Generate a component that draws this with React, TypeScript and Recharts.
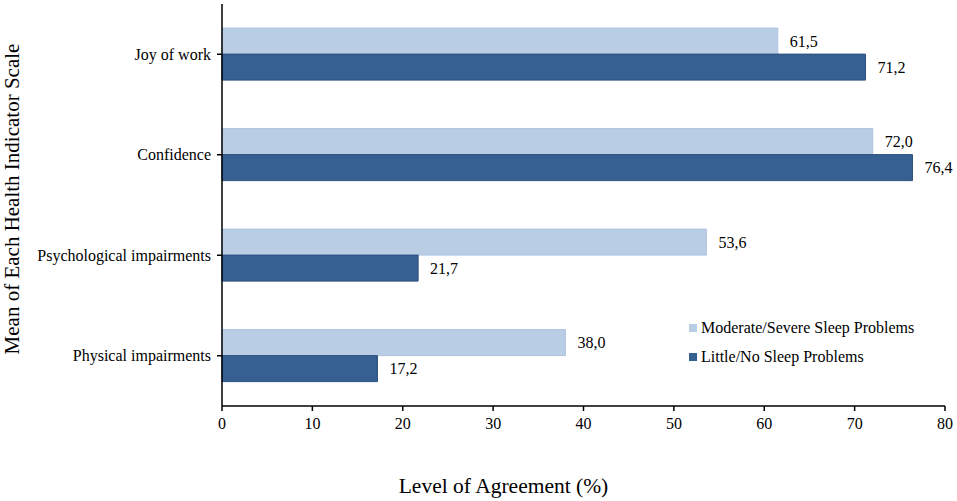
import React from 'react';
import { BarChart, Bar, XAxis, YAxis, LabelList, Legend, Label } from 'recharts';

const categories = ['Joy of work', 'Confidence', 'Psychological impairments', 'Physical impairments'];
const moderateSevere = [61.5, 72.0, 53.6, 38.0];
const littleNo = [71.2, 76.4, 21.7, 17.2];
const xTicks = [0, 10, 20, 30, 40, 50, 60, 70, 80];

const data = categories.map((name, i) => ({ name, moderate: moderateSevere[i], little: littleNo[i] }));

const LIGHT = '#b9cde5';
const DARK = '#376092';
const FONT = '"Liberation Serif", "Times New Roman", serif';

const fmt = (v: any) => Number(v).toFixed(1).replace('.', ',');

const LegendContent = () => (
  <div style={{ fontFamily: FONT, fontSize: 16, color: '#000', lineHeight: '29px' }}>
    {[
      { c: LIGHT, t: 'Moderate/Severe Sleep Problems' },
      { c: DARK, t: 'Little/No Sleep Problems' },
    ].map((e) => (
      <div key={e.t} style={{ display: 'flex', alignItems: 'center' }}>
        <span style={{ display: 'inline-block', width: 8, height: 8, background: e.c, marginRight: 4 }} />
        <span>{e.t}</span>
      </div>
    ))}
  </div>
);

const YTitle = (props: any) => {
  const vb = props.viewBox || {};
  const cx = 12;
  const cy = (vb.y ?? 0) + (vb.height ?? 0) / 2 - 6;
  return (
    <text
      x={cx}
      y={cy}
      transform={`rotate(-90 ${cx} ${cy})`}
      textAnchor="middle"
      dominantBaseline="central"
      style={{ fill: '#000', fontSize: 21, fontFamily: FONT }}
    >
      Mean of Each Health Indicator Scale
    </text>
  );
};

export default function App() {
  return (
    <div style={{ position: 'absolute', left: 0, top: 0, background: '#fff' }}>
      <BarChart
        width={957}
        height={501}
        data={data}
        layout="vertical"
        margin={{ top: 4, right: 12, bottom: 0, left: 30 }}
        barCategoryGap="24%"
        barGap={0}
      >
        <XAxis
          type="number"
          domain={[0, 80]}
          ticks={xTicks}
          tickSize={5}
          tickMargin={7}
          tick={{ fill: '#000', fontSize: 16, fontFamily: FONT }}
          axisLine={{ stroke: '#000', strokeWidth: 1.5 }}
          tickLine={{ stroke: '#000', strokeWidth: 1.5 }}
          height={95}
        >
          <Label
            value="Level of Agreement (%)"
            position="insideBottom"
            offset={8}
            dx={-80}
            style={{ fill: '#000', fontSize: 21.5, fontFamily: FONT }}
          />
        </XAxis>
        <YAxis
          type="category"
          dataKey="name"
          width={192}
          tickSize={5}
          tickMargin={6}
          tick={{ fill: '#000', fontSize: 16, fontFamily: FONT }}
          axisLine={{ stroke: '#000', strokeWidth: 1.5 }}
          tickLine={{ stroke: '#000', strokeWidth: 1.5 }}
        >
          <Label content={<YTitle />} />
        </YAxis>
        <Legend
          verticalAlign="middle"
          align="center"
          layout="horizontal"
          content={<LegendContent />}
          wrapperStyle={{ left: 689, top: 313, width: 260, height: 60 }}
        />
        <Bar dataKey="moderate" name="Moderate/Severe Sleep Problems" fill={LIGHT} stroke="#aec3de" strokeWidth={1} isAnimationActive={false}>
          <LabelList dataKey="moderate" position="right" offset={12} formatter={fmt} style={{ fill: '#000', fontSize: 16, fontFamily: FONT }} />
        </Bar>
        <Bar dataKey="little" name="Little/No Sleep Problems" fill={DARK} stroke="#2b4f7e" strokeWidth={1} isAnimationActive={false}>
          <LabelList dataKey="little" position="right" offset={12} formatter={fmt} style={{ fill: '#000', fontSize: 16, fontFamily: FONT }} />
        </Bar>
      </BarChart>
    </div>
  );
}
